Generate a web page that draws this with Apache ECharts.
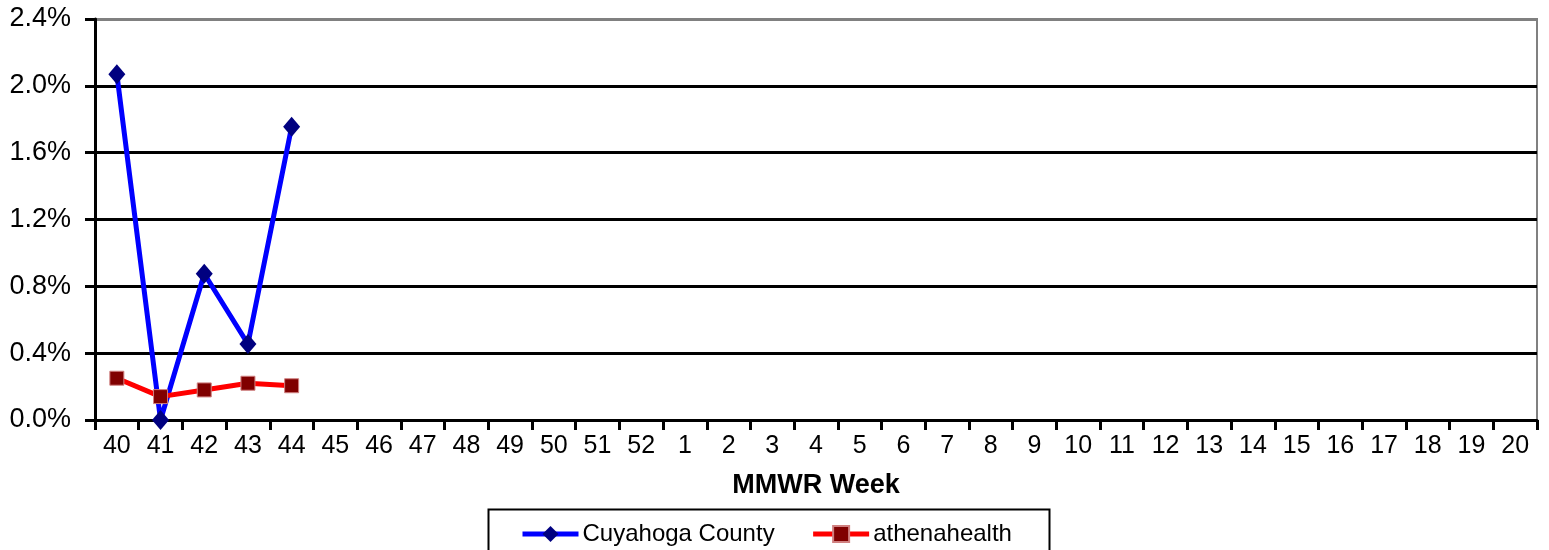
<!DOCTYPE html>
<html>
<head>
<meta charset="utf-8">
<script src="https://cdn.jsdelivr.net/npm/echarts@6/dist/echarts.min.js"></script>
<style>html,body{margin:0;padding:0;background:#fff}#c{width:1549px;height:550px}</style>
</head>
<body>
<div id="c"></div>
<script>
const weeks = ['40','41','42','43','44','45','46','47','48','49','50','51','52','1','2','3','4','5','6','7','8','9','10','11','12','13','14','15','16','17','18','19','20'];
const cuyahoga = [2.07, 0.0, 0.875, 0.455, 1.755];
const athena = [0.25, 0.14, 0.18, 0.22, 0.205];

const font = 'Liberation Sans, Arial, sans-serif';
const chart = echarts.init(document.getElementById('c'));
chart.setOption({
  animation: false,
  backgroundColor: '#fff',
  grid: {left: 95, right: 12, top: 19, bottom: 130, show: true, borderColor: '#808080', borderWidth: 2},
  xAxis: {
    type: 'category', data: weeks, boundaryGap: true,
    name: 'MMWR Week', nameLocation: 'middle', nameGap: 52,
    nameTextStyle: {fontFamily: font, fontSize: 27, fontWeight: 'bold', color: '#000'},
    axisLine: {lineStyle: {color: '#000', width: 3}},
    axisTick: {show: true, length: 10, lineStyle: {color: '#000', width: 3}},
    axisLabel: {fontFamily: font, fontSize: 25, color: '#000', margin: 14, interval: 0},
    splitLine: {show: false}
  },
  yAxis: {
    type: 'value', min: 0, max: 2.4, interval: 0.4,
    axisLine: {show: true, lineStyle: {color: '#000', width: 3}},
    axisTick: {show: true, inside: false, length: 10, lineStyle: {color: '#000', width: 3}},
    axisLabel: {fontFamily: font, fontSize: 27, color: '#000', margin: 24,
      formatter: v => v.toFixed(1) + '%'},
    splitLine: {show: true, lineStyle: {color: ['#000','#000','#000','#000','#000','#000','#808080'], width: 3}}
  },
  legend: {
    left: 515, top: 517, itemWidth: 56, itemHeight: 20, itemGap: 36,
    textStyle: {fontFamily: font, fontSize: 24, color: '#000', padding: [0, 0, 0, -1]},
    data: [
      {name: 'Cuyahoga County', lineStyle: {width: 5}},
      {name: 'athenahealth', lineStyle: {width: 5}}
    ]
  },
  graphic: [{
    type: 'rect', left: 486, top: 507, shape: {width: 561, height: 60},
    style: {fill: 'none', stroke: '#000', lineWidth: 2}, z: 0
  }],
  series: [
    {
      name: 'Cuyahoga County', type: 'line', data: cuyahoga,
      lineStyle: {color: '#0000FF', width: 5},
      itemStyle: {color: '#000080'},
      symbol: 'diamond', symbolSize: [17, 20], z: 3
    },
    {
      name: 'athenahealth', type: 'line', data: athena,
      lineStyle: {color: '#FF0000', width: 5},
      itemStyle: {color: '#800000', borderColor: '#d08080', borderWidth: 1},
      symbol: 'rect', symbolSize: 14, z: 4
    }
  ]
});
</script>
</body>
</html>
